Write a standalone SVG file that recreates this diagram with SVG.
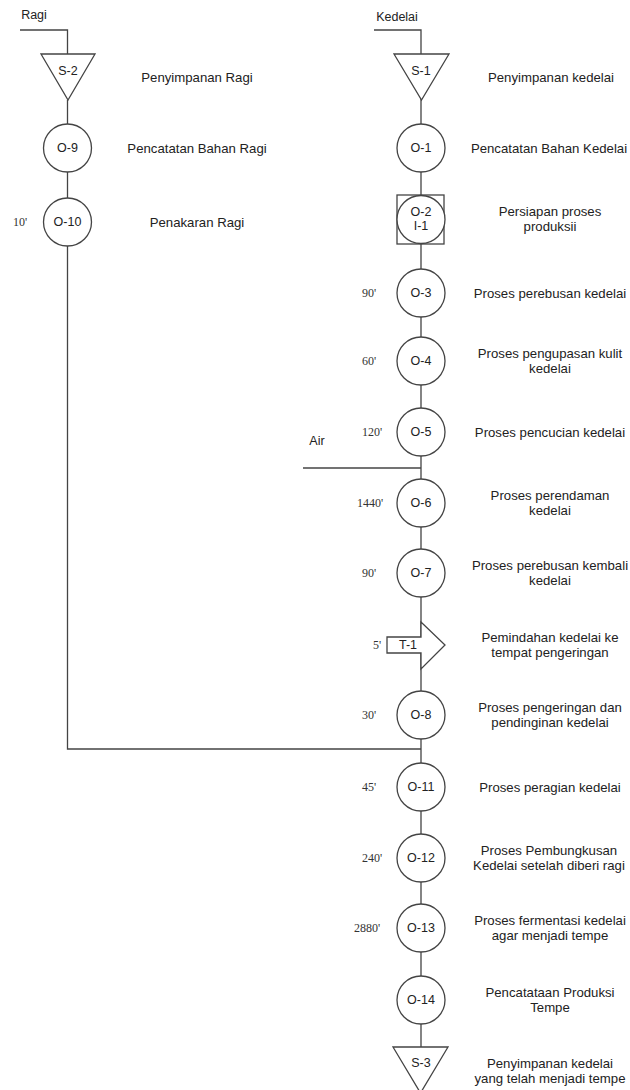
<svg xmlns="http://www.w3.org/2000/svg" width="630" height="1090" viewBox="0 0 630 1090">
<style>
.ln{stroke:#444;stroke-width:1.3;fill:none}
.sh{stroke:#444;stroke-width:1.3;fill:#fff}
.t{font-family:"Liberation Sans",Arial,sans-serif;font-size:12.5px;fill:#222;text-anchor:middle;dominant-baseline:central}
.d{font-family:"Liberation Sans",Arial,sans-serif;font-size:13.2px;fill:#222;text-anchor:middle;dominant-baseline:central}
.m{font-family:"Liberation Serif","Times New Roman",serif;font-size:12px;fill:#333;dominant-baseline:central}
</style>
<rect width="630" height="1090" fill="#fff"/>
<g id="connectors">
<polyline class="ln" points="20,30 67.5,30 67.5,54"/>
<line class="ln" x1="67.5" y1="100" x2="67.5" y2="124"/>
<line class="ln" x1="67.5" y1="172" x2="67.5" y2="198"/>
<polyline class="ln" points="67.5,246 67.5,749 421,749"/>
<polyline class="ln" points="374,30 421,30 421,1047"/>
<line class="ln" x1="303" y1="468" x2="421" y2="468"/>
</g>
<text class="t" x="34" y="15">Ragi</text>
<text class="t" x="397" y="17">Kedelai</text>
<text class="t" x="317" y="441">Air</text>
<g id="S-2"><polygon class="sh" points="41,54 95,54 68,100"/><text class="t" x="68" y="71">S-2</text><text class="d" x="197" y="77">Penyimpanan Ragi</text></g>
<g id="O-9"><circle class="sh" cx="67.5" cy="148" r="24"/><text class="t" x="67.5" y="148">O-9</text><text class="d" x="197" y="148">Pencatatan Bahan Ragi</text></g>
<g id="O-10"><circle class="sh" cx="67.5" cy="222" r="24"/><text class="t" x="67.5" y="222">O-10</text><text class="m" x="13" y="222">10'</text><text class="d" x="197" y="222">Penakaran Ragi</text></g>
<g id="S-1"><polygon class="sh" points="394,54 449,54 421.5,100"/><text class="t" x="421" y="71">S-1</text><text class="d" x="551" y="77">Penyimpanan kedelai</text></g>
<g id="O-1"><circle class="sh" cx="421" cy="148" r="24"/><text class="t" x="421" y="148">O-1</text><text class="d" x="549" y="148">Pencatatan Bahan Kedelai</text></g>
<g id="O-2"><rect class="sh" x="397" y="195" width="47" height="49"/><circle class="sh" cx="421" cy="219.5" r="24"/><text class="t" x="421" y="212">O-2</text><text class="t" x="421" y="226">I-1</text><text class="d" x="550" y="211">Persiapan proses</text><text class="d" x="550" y="226">produksii</text></g>
<g id="O-3"><circle class="sh" cx="421" cy="293" r="24"/><text class="t" x="421" y="293">O-3</text><text class="m" x="362" y="293">90'</text><text class="d" x="550" y="293">Proses perebusan kedelai</text></g>
<g id="O-4"><circle class="sh" cx="421" cy="361" r="24"/><text class="t" x="421" y="361">O-4</text><text class="m" x="362" y="361">60'</text><text class="d" x="550" y="353.5">Proses pengupasan kulit</text><text class="d" x="550" y="368.5">kedelai</text></g>
<g id="O-5"><circle class="sh" cx="421" cy="432" r="24"/><text class="t" x="421" y="432">O-5</text><text class="m" x="362" y="432">120'</text><text class="d" x="550" y="432">Proses pencucian kedelai</text></g>
<g id="O-6"><circle class="sh" cx="421" cy="503" r="24"/><text class="t" x="421" y="503">O-6</text><text class="m" x="357" y="503">1440'</text><text class="d" x="550" y="495.5">Proses perendaman</text><text class="d" x="550" y="510.5">kedelai</text></g>
<g id="O-7"><circle class="sh" cx="421" cy="573" r="24"/><text class="t" x="421" y="573">O-7</text><text class="m" x="362" y="573">90'</text><text class="d" x="550" y="565.5">Proses perebusan kembali</text><text class="d" x="550" y="580.5">kedelai</text></g>
<g id="T-1"><polygon class="sh" points="387,637 421,637 421,622 445,645 421,669 421,653 387,653"/><text class="t" x="408" y="645">T-1</text><text class="m" x="373" y="645">5'</text><text class="d" x="550" y="637.5">Pemindahan kedelai ke</text><text class="d" x="550" y="652.5">tempat pengeringan</text></g>
<g id="O-8"><circle class="sh" cx="421" cy="715" r="24"/><text class="t" x="421" y="715">O-8</text><text class="m" x="362" y="715">30'</text><text class="d" x="550" y="707.5">Proses pengeringan dan</text><text class="d" x="550" y="722.5">pendinginan kedelai</text></g>
<g id="O-11"><circle class="sh" cx="421" cy="787" r="24"/><text class="t" x="421" y="787">O-11</text><text class="m" x="362" y="787">45'</text><text class="d" x="550" y="787">Proses peragian kedelai</text></g>
<g id="O-12"><circle class="sh" cx="421" cy="858" r="24"/><text class="t" x="421" y="858">O-12</text><text class="m" x="362" y="858">240'</text><text class="d" x="549" y="850.5">Proses Pembungkusan</text><text class="d" x="549" y="865.5">Kedelai setelah diberi ragi</text></g>
<g id="O-13"><circle class="sh" cx="421" cy="928" r="24"/><text class="t" x="421" y="928">O-13</text><text class="m" x="354" y="928">2880'</text><text class="d" x="550" y="920.5">Proses fermentasi kedelai</text><text class="d" x="550" y="935.5">agar menjadi tempe</text></g>
<g id="O-14"><circle class="sh" cx="421" cy="1000" r="24"/><text class="t" x="421" y="1000">O-14</text><text class="d" x="550" y="992.5">Pencatataan Produksi</text><text class="d" x="550" y="1007.5">Tempe</text></g>
<g id="S-3"><polygon class="sh" points="393,1047 448,1047 420.5,1093"/><text class="t" x="421" y="1063">S-3</text><text class="d" x="550" y="1063">Penyimpanan kedelai</text><text class="d" x="550" y="1078">yang telah menjadi tempe</text></g>
</svg>
